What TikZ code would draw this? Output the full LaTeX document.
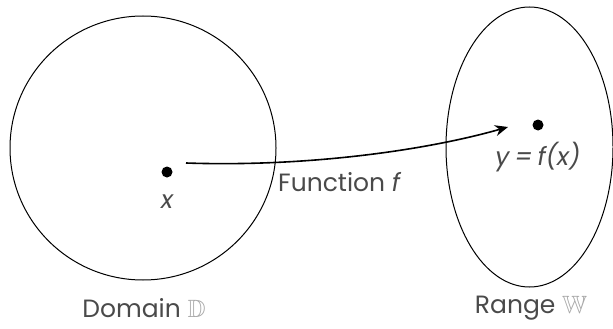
\documentclass[tikz,border=0pt]{standalone}
\usepackage{fontspec}
\usepackage{amssymb}
\setmainfont{Poppins}
\usetikzlibrary{arrows.meta,shapes.geometric}
\definecolor{txt}{HTML}{4A4A4A}
\definecolor{lite}{HTML}{A8A8A8}
\begin{document}
\begin{tikzpicture}[x=1pt,y=-1pt,
  setline/.style={draw=black,line width=1pt},
  dotmark/.style={circle,fill=black,inner sep=0pt,minimum size=11pt},
  lbl/.style={text=txt,font=\fontsize{25}{29}\selectfont,inner sep=0pt}]
\useasboundingbox (0,0) rectangle (613,329);
\node[setline,ellipse,minimum width=266pt,minimum height=264pt,inner sep=0pt] (dom) at (143,148) {};
\node[setline,ellipse,minimum width=167pt,minimum height=280pt,inner sep=0pt] (ran) at (529.5,147) {};
\node[dotmark] (px) at (167,172) {};
\node[dotmark] (py) at (538,125) {};
\node[lbl,font=\fontsize{25}{29}\selectfont\itshape] (lx) at (167,202) {x};
\node[lbl,font=\fontsize{25}{29}\selectfont\itshape] (ly) at (538,157) {y\hspace{5pt}=\hspace{5pt}f(x)};
\node[lbl,anchor=west] (lf) at (278,182) {Function \textit{f}};
\node[lbl] (ld) at (144,308) {Domain \textcolor{lite}{$\mathbb{D}$}};
\node[lbl] (lr) at (531,308) {Range \textcolor{lite}{$\mathbb{W}$}};
\coordinate (s) at (186,163);
\coordinate (e) at (508,127);
\draw[line width=1.6pt,-{Stealth[length=13pt,width=11pt]}] (s) .. controls (300,167) and (420,152) .. (e);
\end{tikzpicture}
\end{document}
